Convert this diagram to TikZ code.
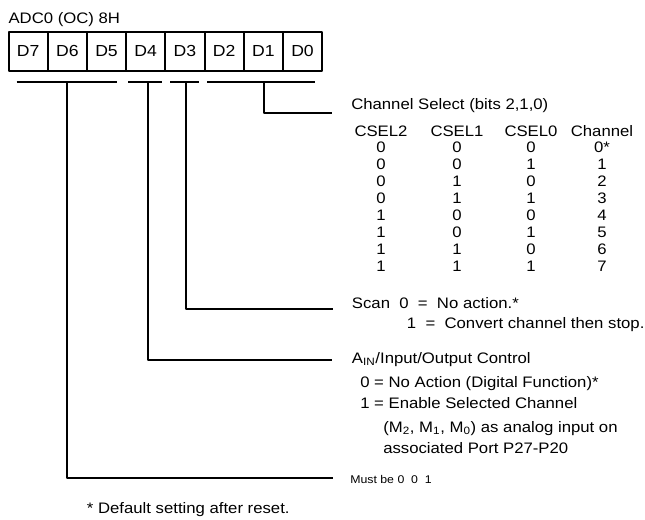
\documentclass[tikz,border=0pt]{standalone}
\usepackage{fontspec}
\setmainfont[FakeStretch=1.1]{Liberation Sans}
\begin{document}
\begin{tikzpicture}[x=0.75pt, y=-0.75pt, line join=round,
	cell/.style={draw, line width=1.5pt, minimum width=29.4pt, minimum height=29.6pt, inner sep=0pt, font=\fontsize{12}{14}\selectfont},
	txt/.style={anchor=base west, inner sep=0pt, font=\fontsize{11.4}{13}\selectfont},
	col/.style={anchor=base, inner sep=0pt, font=\fontsize{11.4}{13}\selectfont},
	bar/.style={line width=1.5pt}]
	\useasboundingbox (0,0) rectangle (645,520);
	\def\cw{39.2};\def\yc{51.3};\def\yb{82};
	% register
	\node[txt] (ttl) at (8.3,24) {ADC0 (OC) 8H};
	\foreach \lbl [count=\i from 0, evaluate=\i as \n using int(7-\i)] in {D7,D6,D5,D4,D3,D2,D1,D0}
		\node[cell] (d\n) at ({8.5+\cw*(\i+0.5)},\yc) {\lbl};
	% bit groups
	\draw[bar] (16.7,\yb)--(116.7,\yb);
	\draw[bar] (128,\yb)--(162,\yb);
	\draw[bar] (170,\yb)--(199,\yb);
	\draw[bar] (207,\yb)--(315,\yb);
	\coordinate (k20) at (264,\yb); \coordinate (k3) at (185.7,\yb);
	\coordinate (k4) at (147.7,\yb); \coordinate (k75) at (66.7,\yb);
	\coordinate (e20) at (332,113); \coordinate (e3) at (333,309);
	\coordinate (e4) at (332,360); \coordinate (e75) at (333,478);
	\draw[bar] (k20) |- (e20);
	\draw[bar] (k3) |- (e3);
	\draw[bar] (k4) |- (e4);
	\draw[bar] (k75) |- (e75);
	% channel select
	\node[txt] (sel) at (351,109.4) {Channel Select (bits 2,1,0)};
	\foreach \h/\x in {CSEL2/381,CSEL1/457,CSEL0/531,Channel/602}
		\node[col] (h\h) at (\x,136.5) {\h};
	\foreach \a/\b/\c/\ch [count=\r from 0] in {0/0/0/0*,0/0/1/1,0/1/0/2,0/1/1/3,1/0/0/4,1/0/1/5,1/1/0/6,1/1/1/7}{
		\node[col] (r\r a) at (381,{152.5+17*\r}) {\a};
		\node[col] (r\r b) at (457,{152.5+17*\r}) {\b};
		\node[col] (r\r c) at (531,{152.5+17*\r}) {\c};
		\node[col] (r\r d) at (602,{152.5+17*\r}) {\ch};
	}
	% scan
	\node[txt] (scan) at (351.7,308.5) {Scan\ \ 0\ \ =\ \ No action.*};
	\node[txt] (scan1) at (406.7,328) {1\ \ =\ \ Convert channel then stop.};
	% input/output control
	\node[txt] (ain) at (351.7,363.5) {A\textsubscript{IN}/Input/Output Control};
	\node[txt] (ain0) at (360,387) {0 = No Action (Digital Function)*};
	\node[txt] (ain1) at (360,408.8) {1 = Enable Selected Channel};
	\node[txt] (ain2) at (383,432) {(M\textsubscript{2}, M\textsubscript{1}, M\textsubscript{0}) as analog input on};
	\node[txt] (ain3) at (383,453.8) {associated Port P27-P20};
	% unused bits
	\node[txt, font=\fontsize{8.4}{10}\selectfont] (must) at (350,483.5) {Must be 0\ \ 0\ \ 1};
	\node[txt] (dflt) at (86.7,513.5) {* Default setting after reset.};
\end{tikzpicture}
\end{document}
